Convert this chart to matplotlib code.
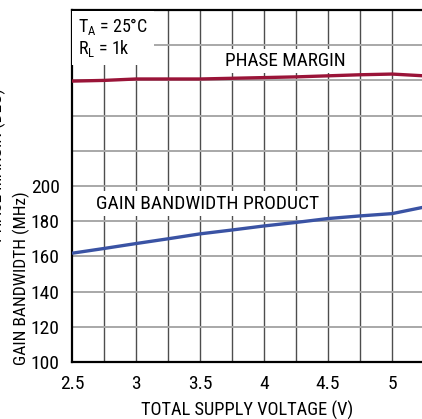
import matplotlib
matplotlib.use("Agg")
import matplotlib.pyplot as plt
from matplotlib import font_manager

# supply voltage sweep (V)
voltage = [2.5, 2.75, 3.0, 3.25, 3.5, 3.75, 4.0, 4.25, 4.5, 4.75, 5.0, 5.25]
# gain bandwidth product (MHz)
gbw = [161.8, 164.5, 167.3, 170.0, 172.8, 175.0, 177.3, 179.3, 181.5, 183.0, 184.3, 188.0]
# phase margin (deg), drawn on a hidden right-hand scale
phase = [79.8, 80.0, 80.4, 80.4, 80.4, 80.6, 80.8, 81.0, 81.3, 81.6, 81.8, 81.3]

x_ticks = [2.5, 3, 3.5, 4, 4.5, 5]
x_tick_labels = ["2.5", "3", "3.5", "4", "4.5", "5"]
y_ticks = [100, 120, 140, 160, 180, 200]

names = {f.name for f in font_manager.fontManager.ttflist}
families = [f for f in ["Liberation Sans Narrow", "Roboto Condensed", "DejaVu Sans Condensed"] if f in names]
plt.rcParams["font.family"] = families + ["DejaVu Sans"]
plt.rcParams["mathtext.fontset"] = "custom"
plt.rcParams["mathtext.rm"] = (families + ["DejaVu Sans"])[0]

fig = plt.figure(figsize=(4.22, 4.19), dpi=100)
ax = fig.add_axes([72 / 422, 57 / 419, 384 / 422, 352 / 419])

ax.set_xlim(2.5, 5.5)
ax.set_ylim(100, 300)

# grid: dark vertical lines every 0.25 V, light horizontal lines every 20 MHz
for gx in [2.5 + 0.25 * i for i in range(1, 12)]:
    ax.axvline(gx, color="#4d4d4d", lw=1.0, zorder=1)
for gy in range(120, 300, 20):
    ax.axhline(gy, color="#a8a8a8", lw=1.4, zorder=1)

ax.plot(voltage, gbw, color="#3a53a4", lw=2.4, zorder=4, solid_capstyle="butt")

ax2 = ax.twinx()
ax2.set_ylim(0, 100)
ax2.plot(voltage, phase, color="#9a1438", lw=2.4, zorder=4, solid_capstyle="butt")
ax2.set_yticks([])
for s in ax2.spines.values():
    s.set_visible(False)

ax.set_xticks(x_ticks)
ax.set_xticklabels(x_tick_labels)
ax.set_yticks(y_ticks)
ax.tick_params(length=0, labelsize=14, pad=9)
for side in ["left", "bottom", "top"]:
    ax.spines[side].set_color("black")
    ax.spines[side].set_linewidth(1.6)
ax.spines["right"].set_visible(False)

box = dict(facecolor="white", edgecolor="none", pad=2.5)
ax.text(2.546, 296.5, "T$_\\mathregular{A}$ = 25°C\nR$_\\mathregular{L}$ = 1k", fontsize=13,
        ha="left", va="top", linespacing=1.05, bbox=dict(facecolor="white", edgecolor="none", pad=4), zorder=3)
ax.text(4.17, 271, "PHASE MARGIN", fontsize=13.8, ha="center", va="center", bbox=box, zorder=3)
ax.text(3.559, 189.8, "GAIN BANDWIDTH PRODUCT", fontsize=14, ha="center", va="center", bbox=box, zorder=3)

fig.text(247.5 / 422, 1 - 410 / 419, "TOTAL SUPPLY VOLTAGE (V)", fontsize=13.2, ha="center", va="center")
fig.text(21 / 422, 1 - 278 / 419, "GAIN BANDWIDTH (MHz)", fontsize=12.5, ha="center", va="center", rotation=90)
# outer label line, mostly cut off by the left edge as in the reference
fig.text(-3 / 422, 1 - 165 / 419, "PHASE MARGIN (DEG)", fontsize=12.5, ha="center", va="center", rotation=90)

fig.savefig("out.png", dpi=100)
